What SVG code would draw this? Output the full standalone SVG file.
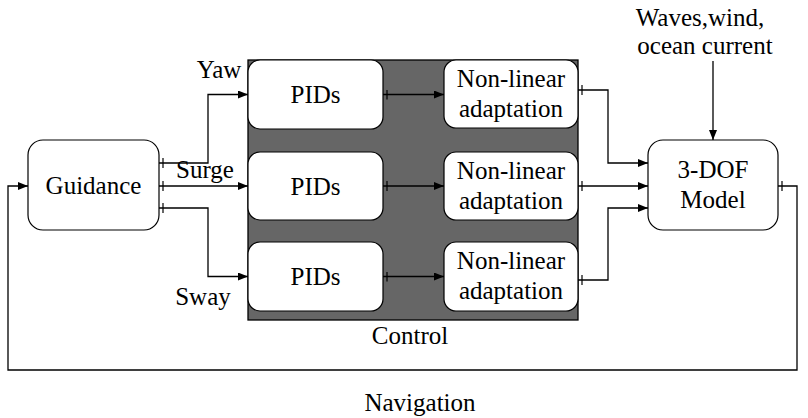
<svg xmlns="http://www.w3.org/2000/svg" width="808" height="418" viewBox="0 0 808 418" font-family="Liberation Serif, Times New Roman, serif">
<style>
.box{fill:#fff;stroke:#000;stroke-width:1.2}
text{font-family:"Liberation Serif","Times New Roman",Times,serif;font-size:25px;fill:#000;text-anchor:middle}
.c{fill:none;stroke:#000;stroke-width:1.3}
</style>
<defs>
<marker id="arr" markerUnits="userSpaceOnUse" markerWidth="11" markerHeight="9" refX="10" refY="4" orient="auto"><path d="M0,0 L10,4 L0,8 z" fill="#000"/></marker>
<marker id="tick" markerUnits="userSpaceOnUse" markerWidth="6" markerHeight="10" refX="0" refY="5" orient="auto"><path d="M4,0 L4,10" stroke="#000" stroke-width="1.2"/></marker>
</defs>
<g id="control">
<rect x="248" y="60" width="330" height="260" fill="#666" stroke="#000" stroke-width="1.3"/>
<text x="410" y="344">Control</text>
</g>
<g id="guidance"><rect class="box" x="28" y="140" width="131" height="90" rx="15"/><text x="93.5" y="194">Guidance</text></g>
<g id="pid1"><rect class="box" x="248" y="60" width="135" height="69" rx="12"/><text x="315.5" y="103">PIDs</text></g>
<g id="pid2"><rect class="box" x="248" y="152" width="135" height="68" rx="12"/><text x="315.5" y="195">PIDs</text></g>
<g id="pid3"><rect class="box" x="248" y="242" width="135" height="69" rx="12"/><text x="315.5" y="285">PIDs</text></g>
<g id="nl1"><rect class="box" x="444" y="60" width="134" height="68" rx="12"/><text x="511" y="87">Non-linear</text><text x="511" y="117">adaptation</text></g>
<g id="nl2"><rect class="box" x="444" y="152" width="134" height="68" rx="12"/><text x="511" y="179">Non-linear</text><text x="511" y="209">adaptation</text></g>
<g id="nl3"><rect class="box" x="444" y="242" width="134" height="69" rx="12"/><text x="511" y="269">Non-linear</text><text x="511" y="299">adaptation</text></g>
<g id="model"><rect class="box" x="648" y="140" width="130" height="90" rx="15"/><text x="713" y="178">3-DOF</text><text x="713" y="208">Model</text></g>
<g id="disturbance"><text x="700" y="26">Waves,wind,</text><text x="705" y="54">ocean current</text></g>
<g id="labels">
<text x="219" y="78">Yaw</text>
<text x="205" y="178">Surge</text>
<text x="203" y="305">Sway</text>
<text x="420" y="411">Navigation</text>
</g>
<g id="connectors">
<path class="c" d="M159,163 H208 V94.5 H248" marker-start="url(#tick)" marker-end="url(#arr)"/>
<path class="c" d="M159,186 H248" marker-start="url(#tick)" marker-end="url(#arr)"/>
<path class="c" d="M159,208 H208 V276.5 H248" marker-start="url(#tick)" marker-end="url(#arr)"/>
<path class="c" d="M383,94.5 H444" marker-start="url(#tick)" marker-end="url(#arr)"/>
<path class="c" d="M383,186 H444" marker-start="url(#tick)" marker-end="url(#arr)"/>
<path class="c" d="M383,276.5 H444" marker-start="url(#tick)" marker-end="url(#arr)"/>
<path class="c" d="M578,90 H608 V163 H648" marker-start="url(#tick)" marker-end="url(#arr)"/>
<path class="c" d="M578,186 H648" marker-start="url(#tick)" marker-end="url(#arr)"/>
<path class="c" d="M578,280 H608 V208 H648" marker-start="url(#tick)" marker-end="url(#arr)"/>
<path class="c" d="M713,61 V140" marker-end="url(#arr)"/>
<path class="c" d="M778,186 H797 V370 H8 V186 H28" marker-start="url(#tick)" marker-end="url(#arr)"/>
</g>
</svg>
